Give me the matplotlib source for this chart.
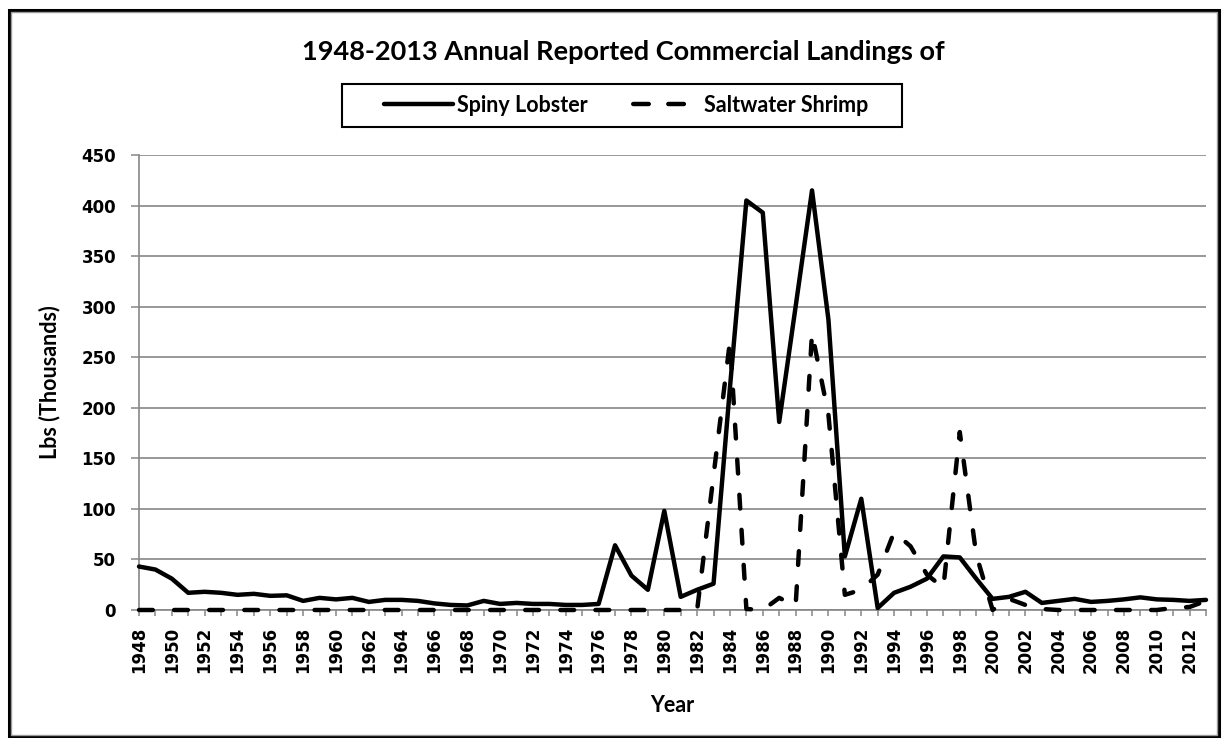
import matplotlib
matplotlib.use("Agg")
import matplotlib.pyplot as plt
from matplotlib.patches import Rectangle
from matplotlib.ticker import MultipleLocator
from matplotlib.lines import Line2D

years = list(range(1948, 2014))
spiny_lobster = [43, 40, 31, 17, 18, 17, 15, 16, 14, 14.5,
                 9, 12, 10.5, 12, 8, 10, 10, 9, 6.5, 5,
                 4.5, 9, 6, 7, 6, 6, 5, 5, 6, 64,
                 34, 20, 98, 13, 20, 26, 220, 405, 393, 186,
                 300, 415, 287, 53, 110, 2, 17, 23, 31, 53,
                 52, 31, 11, 13, 18, 7, 9, 11, 8, 9,
                 10.5, 12.5, 10.5, 10, 9, 10]
saltwater_shrimp = [0] * 34 + [0, 133, 266, 1, 0, 12, 4, 274, 193, 15,
                               20, 35, 77, 63, 35, 22, 176, 55, 0, 11,
                               5, 1, 0, 0, 0, 0, 0, 0, 0, 2,
                               3, 9]
assert len(spiny_lobster) == len(years) and len(saltwater_shrimp) == len(years)

title = "1948-2013 Annual Reported Commercial Landings of"
series_names = ["Spiny Lobster", "Saltwater Shrimp"]
y_label = "Lbs (Thousands)"
x_label = "Year"

W, H = 1222, 738
fig = plt.figure(figsize=(W / 100, H / 100), dpi=100)

def fx(px):
    return px / W

def fy(py):
    return 1 - py / H

# outer frame
fig.patches.append(Rectangle((fx(9), fy(737)), fx(1219) - fx(9), fy(10) - fy(737),
                             transform=fig.transFigure, fill=False,
                             edgecolor="black", linewidth=2.2, zorder=10))
fig.patches.append(Rectangle((fx(11), fy(735)), fx(1217) - fx(11), fy(12) - fy(735),
                             transform=fig.transFigure, fill=False,
                             edgecolor="#9a9a9a", linewidth=1.0, zorder=10))
# legend frame
fig.patches.append(Rectangle((fx(342), fy(127)), fx(902) - fx(342), fy(84) - fy(127),
                             transform=fig.transFigure, fill=False,
                             edgecolor="black", linewidth=1.5, zorder=10))

ax = fig.add_axes([fx(139), fy(610), fx(1206) - fx(139), fy(155) - fy(610)])

grid_col = "#868686"
lw = 3.2
dash = (0, (3.1, 4.8))
ax.plot(years, spiny_lobster, color="black", linewidth=lw, solid_joinstyle="round",
        solid_capstyle="round", clip_on=False, zorder=3, label=series_names[0])
ax.plot(years, saltwater_shrimp, color="black", linewidth=lw,
        linestyle=dash, dash_capstyle="round", dash_joinstyle="round",
        clip_on=False, zorder=4, label=series_names[1])

ax.set_xlim(1948, 2013)
ax.set_ylim(0, 450)
ax.yaxis.set_major_locator(MultipleLocator(50))
ax.xaxis.set_major_locator(MultipleLocator(2))
ax.xaxis.set_minor_locator(MultipleLocator(1))
ax.grid(axis="y", color=grid_col, linewidth=1.2, zorder=0)
ax.set_axisbelow(True)

for s in ["top", "right"]:
    ax.spines[s].set_visible(False)
for s in ["left", "bottom"]:
    ax.spines[s].set_color(grid_col)
    ax.spines[s].set_linewidth(1.2)

tick_font = dict(family="DejaVu Sans", weight="bold", size=12)
ax.tick_params(axis="y", which="major", length=5.5, width=1.1, color=grid_col,
               pad=11, labelsize=12)
ax.tick_params(axis="x", which="both", length=4, width=1.1, color=grid_col,
               pad=8, labelsize=12)
ax.set_xticks(list(range(1948, 2014, 2)))
ax.set_xticklabels([str(y) for y in range(1948, 2014, 2)], rotation=90,
                   fontdict=tick_font)
for t in ax.get_yticklabels():
    t.set_fontfamily("DejaVu Sans")
    t.set_fontweight("bold")

txt_font = "Lato"
fig.text(fx(623), fy(52), title, ha="center", va="center",
         fontsize=19.5, fontweight="bold", family=txt_font)
fig.text(fx(50), fy(382), y_label, ha="center", va="center", rotation=90,
         fontsize=15.5, fontweight="bold", family=txt_font)
fig.text(fx(672), fy(706), x_label, ha="center", va="center",
         fontsize=15.5, fontweight="bold", family=txt_font)

handles = [Line2D([], [], color="black", linewidth=lw, solid_capstyle="round"),
           Line2D([], [], color="black", linewidth=lw, linestyle=(-0.5, (3.5, 4.4)),
                  dash_capstyle="round")]
leg = fig.legend(handles, series_names, loc="center",
                 bbox_to_anchor=(fx(626), fy(105.5)), ncol=2, frameon=False,
                 handlelength=3.2, handletextpad=0.2, columnspacing=2.0,
                 borderpad=0.3, borderaxespad=0,
                 prop=dict(family=txt_font, weight="bold", size=15.5))

fig.savefig("out.png", dpi=100)
